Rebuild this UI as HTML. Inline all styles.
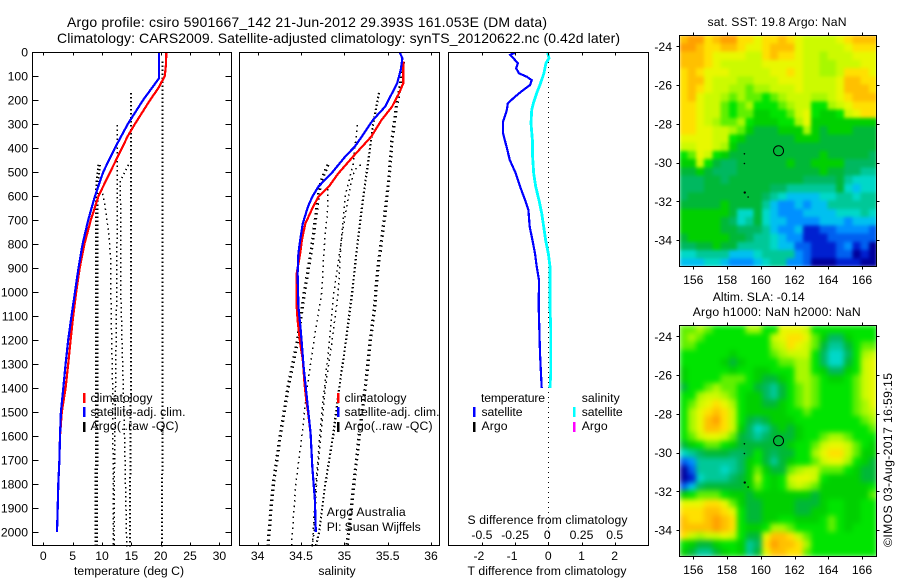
<!DOCTYPE html>
<html lang="en">
<head>
<meta charset="utf-8">
<title>Argo profile chart</title>
<style>
html,body{margin:0;padding:0;background:#fff;width:900px;height:580px;overflow:hidden}
svg{display:block;font-family:"Liberation Sans",sans-serif;font-size:12.2px;fill:#000}
text{fill:#000}
.title{font-size:14px}
.frame{fill:none;stroke:#000;stroke-width:1;shape-rendering:crispEdges}
.seg{stroke-width:2.5;shape-rendering:crispEdges}
</style>
</head>
<body>
<svg id="chart" xmlns="http://www.w3.org/2000/svg" width="900" height="580" viewBox="0 0 900 580">
  <defs>
    <filter id="soft-sst" filterUnits="userSpaceOnUse" x="679.5" y="35.5" width="197" height="231" color-interpolation-filters="sRGB">
      <feGaussianBlur stdDeviation="1.8" edgeMode="duplicate"/>
    </filter>
    <filter id="soft-sla" filterUnits="userSpaceOnUse" x="679.5" y="325.5" width="197" height="231" color-interpolation-filters="sRGB">
      <feGaussianBlur stdDeviation="2.6" edgeMode="duplicate"/>
    </filter>
  </defs>
  <rect x="0" y="0" width="900" height="580" fill="#fff"/>
  <g id="heat-sst" filter="url(#soft-sst)"></g>
  <g id="heat-sla" filter="url(#soft-sla)"></g>
  <g id="marks"></g>
  <g id="ticks"></g>

  <rect class="frame" x="32.5" y="52.5" width="199" height="493"/>
  <rect class="frame" x="239.5" y="52.5" width="200" height="493"/>
  <rect class="frame" x="448.5" y="52.5" width="200" height="493"/>
  <rect class="frame" x="679.5" y="35.5" width="197" height="231"/>
  <rect class="frame" x="679.5" y="325.5" width="197" height="231"/>

  <text class="title" x="67" y="27" textLength="480" lengthAdjust="spacing">Argo profile: csiro 5901667_142 21-Jun-2012 29.393S 161.053E (DM data)</text>
  <text class="title" x="57" y="43" textLength="563" lengthAdjust="spacing">Climatology: CARS2009. Satellite-adjusted climatology: synTS_20120622.nc (0.42d later)</text>

  <text x="74" y="575" textLength="110" lengthAdjust="spacing">temperature (deg C)</text>
  <text x="337" y="575" text-anchor="middle">salinity</text>
  <text x="467.5" y="575" textLength="159" lengthAdjust="spacing">T difference from climatology</text>
  <text x="467.5" y="524" textLength="160" lengthAdjust="spacing">S difference from climatology</text>

  <g>
    <line class="seg" x1="84" x2="84" y1="393" y2="403" stroke="#f00"/>
    <line class="seg" x1="84" x2="84" y1="407" y2="417" stroke="#00f"/>
    <line class="seg" x1="84" x2="84" y1="422" y2="432" stroke="#000"/>
    <text x="90.5" y="402" textLength="62" lengthAdjust="spacing">climatology</text>
    <text x="90.5" y="416" textLength="95" lengthAdjust="spacing">satellite-adj. clim.</text>
    <text x="90.5" y="430" textLength="88" lengthAdjust="spacing">Argo(..raw -QC)</text>
  </g>
  <g>
    <line class="seg" x1="338" x2="338" y1="393" y2="403" stroke="#f00"/>
    <line class="seg" x1="338" x2="338" y1="407" y2="417" stroke="#00f"/>
    <line class="seg" x1="338" x2="338" y1="422" y2="432" stroke="#000"/>
    <text x="344.5" y="402" textLength="62" lengthAdjust="spacing">climatology</text>
    <text x="344.5" y="416" textLength="95" lengthAdjust="spacing">satellite-adj. clim.</text>
    <text x="344.5" y="430" textLength="88" lengthAdjust="spacing">Argo(..raw -QC)</text>
  </g>
  <text x="326.7" y="516" textLength="79" lengthAdjust="spacing">Argo Australia</text>
  <text x="326.7" y="531" textLength="94" lengthAdjust="spacing">PI: Susan Wijffels</text>

  <g>
    <text x="481" y="402" textLength="64" lengthAdjust="spacing">temperature</text>
    <text x="581.7" y="402" textLength="38" lengthAdjust="spacing">salinity</text>
    <line class="seg" x1="474" x2="474" y1="407" y2="417" stroke="#00f"/>
    <line class="seg" x1="474" x2="474" y1="422" y2="432" stroke="#000"/>
    <line class="seg" x1="574" x2="574" y1="407" y2="417" stroke="#0ff"/>
    <line class="seg" x1="574" x2="574" y1="422" y2="432" stroke="#f0f"/>
    <text x="481.5" y="416" textLength="41" lengthAdjust="spacing">satellite</text>
    <text x="481.5" y="430" textLength="26" lengthAdjust="spacing">Argo</text>
    <text x="581.7" y="416" textLength="41" lengthAdjust="spacing">satellite</text>
    <text x="581.7" y="430" textLength="26" lengthAdjust="spacing">Argo</text>
  </g>

  <text x="707.5" y="26" textLength="139" lengthAdjust="spacing">sat. SST: 19.8 Argo: NaN</text>
  <text x="712.7" y="301" textLength="92" lengthAdjust="spacing">Altim. SLA: -0.14</text>
  <text x="692.7" y="316" textLength="168" lengthAdjust="spacing">Argo h1000: NaN h2000: NaN</text>
  <text transform="translate(892,547) rotate(-90)" textLength="174" lengthAdjust="spacing">©IMOS 03-Aug-2017 16:59:15</text>
</svg>

<script>
/* ---------- profile data ---------- */
const climTempDepth = [0,50,100,150,200,300,350,400,500,600,700,800,900,1000,1100,1200,1300,1400,1500,1600,1700,1800,1900,2000];
const climTemp  = [20.95,20.9,20.7,19.6,18.2,15.6,14.4,13.4,11.4,9.4,8.1,7,6.2,5.6,5.1,4.65,4.25,3.8,3.15,2.85,2.75,2.56,2.45,2.33];
const climSalDepth = [40,130,172,228,283,353,436,506,561,603,644,714,783,839,922,1061,1117,1214,1283,1381,1450,1499,1589,1728,1867,2000];
const climSal   = [35.68,35.68,35.63,35.55,35.43,35.31,35.1,34.93,34.82,34.7,34.64,34.55,34.51,34.49,34.45,34.45,34.46,34.49,34.52,34.54,34.56,34.58,34.61,34.63,34.66,34.67];

const satTempDepth = [0,50,100,110,150,200,300,400,500,600,700,800,900,1000,1100,1200,1300,1400,1500,1600,1700,1800,1900,2000];
const satTemp  = [19.7,19.7,19.7,19.7,18.5,17,14.4,12.2,10.2,8.8,7.65,6.7,6,5.4,4.8,4.25,3.8,3.4,3,2.85,2.75,2.56,2.45,2.33];
const satSalDepth = [3,26,75,130,172,228,283,353,394,436,506,561,603,644,714,783,839,922,1061,1172,1311,1450,1589,1728,1867,2000];
const satSal   = [35.64,35.67,35.65,35.61,35.55,35.47,35.33,35.2,35.12,35.01,34.85,34.7,34.63,34.58,34.52,34.49,34.47,34.46,34.47,34.5,34.53,34.57,34.61,34.63,34.66,34.67];

const argoADepth = [170,305,470,600,800,1000,1200,1400,1600,1800,2000,2060];
const argoATemp  = [14.9,14.9,14.9,14.9,14.9,14.9,14.9,14.9,14.85,14.8,14.8,14.8];
const argoASal   = [35.4,35.33,35.27,35.22,35.15,35.09,35.02,34.94,34.87,34.78,34.71,34.67];

const argoBDepth = [40,130,230,367,505,640,783,920,1060,1200,1400,1600,1800,2000,2060];
const argoBTemp  = [20.3,20.3,20.3,20.3,20.3,20.3,20.3,20.3,20.3,20.3,20.3,20.3,20.25,20.2,20.2];
const argoBSal   = [35.68,35.65,35.6,35.55,35.52,35.48,35.43,35.38,35.35,35.3,35.24,35.17,35.11,35.05,35.03];

const argoCDepth = [305,470,600,800,1000,1200,1400,1600,1800,2000,2060];
const argoCTemp  = [12.6,12.6,12.6,12.55,12.5,12.4,12.3,12.2,12.1,12.05,12.05];
const argoCSal   = [35.15,35.1,35.01,34.96,34.93,34.86,34.78,34.73,34.68,34.65,34.63];

const argoDDepth = [470,540,600,800,1000,1200,1400,1600,1800,2000,2060];
const argoDTemp  = [9.5,9.2,9.1,9.1,9.1,9.1,9.1,9.1,9.05,9,9];
const argoDSal   = [34.81,34.73,34.7,34.63,34.54,34.46,34.35,34.26,34.18,34.13,34.12];

const argoEDepth = [570,640,690,750,860,1000,1200,1400,1600,1800,2000,2060];
const argoETemp  = [9.95,10.5,10.8,11.1,11.5,11.5,11.65,11.8,11.85,11.9,11.9,11.9];
const argoESal   = [34.81,34.81,34.8,34.78,34.76,34.74,34.65,34.57,34.51,34.44,34.4,34.39];

const argoFDepth = [470,490,540,700,1000,1200,1500,1800,2060];
const argoFTemp  = [14.5,14.1,13.1,13.2,13.2,13.4,13.75,14,14.2];
const argoFSal   = [35.19,35.12,35.08,35,34.88,34.83,34.74,34.67,34.63];

const diffTDepth = [3,12,26,47,68,89,103,117,138,158,186,214,242,290,339,394,450,506,561,617,658,728,783,839,894,950,1061,1151,1256,1400];
const diffT      = [-1,-1.15,-1.05,-0.92,-0.97,-0.88,-0.65,-0.5,-0.55,-0.75,-1,-1.22,-1.25,-1.36,-1.36,-1.26,-1.16,-0.98,-0.85,-0.7,-0.6,-0.56,-0.48,-0.4,-0.35,-0.28,-0.29,-0.27,-0.25,-0.2];
const diffSDepth = [3,26,47,89,138,172,214,242,297,367,436,506,561,617,672,728,783,839,894,1061,1151,1340,1400];
const diffS      = [-0.005,0.005,-0.018,-0.033,-0.063,-0.088,-0.113,-0.125,-0.13,-0.12,-0.118,-0.11,-0.095,-0.07,-0.05,-0.035,-0.02,0,0.0125,0.0125,0.018,0.018,0.0125];

/* ---------- tick labels ---------- */
const depthTicks = [0,100,200,300,400,500,600,700,800,900,1000,1100,1200,1300,1400,1500,1600,1700,1800,1900,2000];
const tempTicks  = [0,5,10,15,20,25,30];
const salTicks   = [34,34.5,35,35.5,36];
const diffTTicks = [-2,-1,0,1,2];
const diffSTicks = [-0.5,-0.25,0,0.25,0.5];
const lonTicks   = [156,158,160,162,164,166];
const latTicks   = [-24,-26,-28,-30,-32,-34];

/* ---------- map data (colour level per cell, north to south) ---------- */
const sstGrid = [
[16,17,17,15,16,17,17,15,15,14,15,15,16,15,14,13,13,13,13,14,15,16,16,16],
[17,17,16,15,15,16,16,15,14,14,15,16,16,16,14,13,13,13,13,13,14,15,15,15],
[16,16,16,15,14,14,14,14,13,13,15,16,15,15,14,13,13,12,13,13,13,14,14,14],
[16,16,16,15,14,13,13,13,13,13,14,14,14,14,14,13,13,12,12,13,13,13,14,14],
[15,16,15,14,14,14,13,13,13,13,13,14,14,15,14,13,13,12,12,13,15,15,15,14],
[15,16,16,14,13,13,13,12,12,13,13,13,14,14,14,13,13,13,13,14,16,16,15,15],
[15,16,15,14,13,13,12,12,11,12,12,13,13,13,14,13,13,13,13,14,16,16,16,15],
[15,16,14,13,13,12,11,12,11,11,10,11,12,13,13,13,12,12,13,14,15,16,16,16],
[15,15,14,13,13,11,10,11,12,10,10,10,11,12,13,13,10,10,12,13,14,15,15,15],
[15,15,14,13,13,11,10,11,11,9,9,10,10,11,13,14,10,9,9,10,13,14,15,15],
[15,15,14,13,12,11,11,12,10,9,9,9,10,10,12,14,9,9,9,9,9,9,9,9],
[15,15,14,14,13,13,12,11,9,8,8,8,9,9,9,12,9,8,9,9,9,8,8,8],
[14,14,14,14,13,13,10,9,8,8,8,8,8,8,9,9,9,8,8,8,8,8,8,8],
[13,13,14,14,13,12,9,8,8,8,8,8,8,8,8,8,8,8,8,8,8,8,8,8],
[10,11,14,13,10,9,8,8,8,8,8,8,8,8,8,8,8,9,8,8,8,8,8,7],
[9,9,13,10,8,7,7,8,8,8,8,8,8,9,8,8,9,9,9,9,7,7,7,7],
[8,8,9,8,7,7,7,8,8,8,8,8,8,8,8,8,8,9,8,8,7,7,6,6],
[7,7,7,8,8,7,8,8,8,8,8,8,8,8,8,7,7,7,7,8,6,5,5,5],
[7,7,7,8,8,8,8,8,8,8,8,7,7,6,6,6,6,6,6,8,5,4,5,5],
[7,8,8,8,8,8,8,8,8,8,7,6,5,4,4,4,4,5,5,6,6,5,6,6],
[8,8,8,8,8,9,8,8,8,8,6,4,3,3,4,3,4,4,6,6,6,6,6,6],
[9,9,9,9,9,9,8,5,5,8,5,4,3,3,3,4,4,4,4,5,5,5,6,5],
[9,9,9,9,9,8,7,5,6,8,5,4,4,3,3,3,3,4,4,4,3,4,4,4],
[9,9,9,9,9,8,8,7,7,7,6,4,3,3,4,1,1,2,2,3,3,3,3,2],
[8,9,9,9,9,9,8,8,7,6,6,5,4,3,3,1,1,1,2,2,2,2,2,2],
[7,7,8,8,9,8,8,6,6,6,6,5,4,4,2,2,1,1,1,2,3,1,2,0],
[5,5,6,6,6,6,4,4,4,5,6,6,6,6,3,2,1,1,1,2,2,0,1,0],
[4,4,4,5,5,4,3,3,3,4,5,6,6,3,3,2,0,0,0,1,1,1,0,0]
];
const slaGrid = [
[11,11,12,11,10,10,10,10,12,12,10,10,14,14,14,13,10,10,10,10,10,10,10,10],
[11,12,11,10,10,10,10,10,10,10,10,13,14,15,15,14,11,9,7,7,9,10,10,10],
[11,11,10,10,10,10,10,10,10,10,10,12,13,15,14,13,11,8,6,6,8,10,11,11],
[10,10,10,10,10,10,9,10,10,10,10,11,12,13,13,13,10,7,5,5,7,10,12,13],
[10,10,10,10,10,9,8,9,10,10,10,10,11,11,12,12,10,7,5,5,8,10,13,14],
[9,10,10,10,10,10,9,10,10,9,9,10,10,10,12,12,10,9,7,7,9,10,13,14],
[9,10,10,10,10,11,11,11,10,9,8,8,9,10,12,12,11,10,9,9,10,11,13,14],
[8,10,10,11,12,11,11,10,10,8,7,6,8,10,11,12,11,10,10,10,10,11,13,14],
[10,10,12,13,13,12,11,10,9,9,7,6,8,10,11,12,11,10,10,10,10,11,13,14],
[10,11,13,14,15,14,12,10,9,9,8,8,9,10,11,12,11,10,10,10,10,11,12,14],
[10,12,14,15,16,15,13,10,9,9,9,9,9,10,10,11,10,10,10,10,10,11,12,13],
[10,12,14,16,17,15,13,10,8,7,8,9,9,9,10,10,10,10,10,10,10,10,11,12],
[10,12,14,16,16,15,13,9,7,5,6,8,9,8,9,10,10,10,10,10,10,10,10,11],
[10,11,13,14,14,13,11,8,7,6,7,8,8,8,9,10,10,11,12,12,11,10,10,10],
[8,9,10,11,11,10,9,8,8,8,8,8,8,9,10,10,11,13,14,14,13,11,10,9],
[5,6,7,8,8,8,7,7,8,10,8,7,8,8,10,10,12,14,15,15,13,11,9,9],
[2,3,6,6,6,6,6,7,9,10,8,6,8,9,10,10,11,13,14,14,12,10,9,8],
[0,2,6,6,6,5,6,7,9,11,9,8,8,11,12,13,13,11,11,11,10,9,8,8],
[0,1,5,6,6,6,7,8,9,12,10,9,10,13,14,14,13,10,9,9,9,9,8,8],
[2,4,7,8,8,8,8,8,9,11,10,9,10,12,13,12,11,9,9,9,9,9,9,10],
[9,10,11,11,11,10,9,9,8,9,9,9,9,9,9,9,8,9,9,9,9,9,9,11],
[14,14,14,15,15,14,11,9,8,8,9,9,9,9,8,8,8,9,10,10,9,9,10,10],
[15,15,15,16,16,15,14,10,8,8,9,9,9,9,8,8,9,9,10,10,9,9,10,10],
[16,15,15,16,17,16,15,10,8,8,9,9,10,10,9,9,9,10,11,10,9,9,10,10],
[16,16,16,16,17,16,15,10,9,9,10,12,12,11,10,10,10,10,11,10,9,10,10,10],
[15,13,12,13,13,14,13,10,8,8,14,16,16,15,13,11,10,10,10,10,10,10,10,10],
[10,9,8,8,9,10,10,9,6,7,15,17,16,16,15,12,10,10,10,10,10,10,10,10],
[9,8,6,6,8,9,10,9,6,8,14,16,16,15,15,11,10,10,10,10,10,10,10,10]
];
const floatLon = 161.053;
const floatLat = -29.393;
const islandLon = [159.03,159.03,159.05,159.25];
const islandLat = [-29.55,-30.05,-31.55,-31.78];

/* colour scale for map levels 0..17 */
const palette = ['#00009c','#0020d0','#0060f0','#0090ff','#00c0f0','#00d8c8','#00c898','#00b860','#00b838','#00d000','#00e400','#60f000','#a8f800','#ccfa00','#e8f800','#ffe000','#ffc000','#ffa000'];

/* ---------- axis functions ---------- */
const depthY = d => 52 + 0.24 * d;
const tempX  = t => 43.3 + 5.87 * t;
const salX   = s => 257.7 + 86.67 * (s - 34);
const diffTX = t => 548.3 + 33.2 * t;
const diffSX = s => 548.3 + 132.8 * s;
const lonX   = lon => 693.3 + 16.87 * (lon - 156);
const latY   = (lat, top) => top + 11.3 + 19.37 * (-24 - lat);

const NS = 'http://www.w3.org/2000/svg';
const marks = document.getElementById('marks');
const ticks = document.getElementById('ticks');

function mk(tag, name, parent) {
  const el = document.createElementNS(NS, tag);
  
  
  parent.appendChild(el);
  return el;
}

function profile(name, xs, ds, xf, color, width, dash) {
  const pts = xs.map((v, i) => xf(v).toFixed(1) + ',' + depthY(ds[i]).toFixed(1)).join(' ');
  const el = mk('polyline', name, marks);
  el.setAttribute('points', pts);
  el.setAttribute('fill', 'none');
  el.setAttribute('stroke', color);
  el.setAttribute('stroke-width', width);
  el.setAttribute('shape-rendering', 'crispEdges');
  if (dash) el.setAttribute('stroke-dasharray', dash);
}

function tickLine(name, x1, y1, x2, y2) {
  const el = mk('line', name, ticks);
  el.setAttribute('x1', x1);
  el.setAttribute('y1', y1);
  el.setAttribute('x2', x2);
  el.setAttribute('y2', y2);
  el.setAttribute('stroke', '#000');
  el.setAttribute('stroke-width', 1);
  el.setAttribute('shape-rendering', 'crispEdges');
}

function tickText(name, x, y, anchor, str) {
  const el = mk('text', name, ticks);
  el.setAttribute('x', x);
  el.setAttribute('y', y);
  el.setAttribute('text-anchor', anchor);
  el.textContent = str;
}

/* ---------- temperature panel ---------- */
profile('argo-temp-profile-b', argoBTemp, argoBDepth, tempX, '#000', 2, '1.5 2.5');
profile('argo-temp-profile-a', argoATemp, argoADepth, tempX, '#000', 2, '1.5 2.5');
profile('argo-temp-profile-c', argoCTemp, argoCDepth, tempX, '#000', 1.5, '1.5 3');
profile('argo-temp-profile-e', argoETemp, argoEDepth, tempX, '#000', 1.5, '1.5 3.5');
profile('argo-temp-profile-f', argoFTemp, argoFDepth, tempX, '#000', 1.5, '1.5 3');
profile('argo-temp-profile-d', argoDTemp, argoDDepth, tempX, '#000', 3.5, '1.5 2.5');
profile('climatology-temperature-line', climTemp, climTempDepth, tempX, '#f00', 2.2);
profile('satellite-temperature-line', satTemp, satTempDepth, tempX, '#00f', 2.2);

/* ---------- salinity panel ---------- */
profile('argo-sal-profile-c', argoCSal, argoCDepth, salX, '#000', 1.5, '1.5 4');
profile('argo-sal-profile-e', argoESal, argoEDepth, salX, '#000', 1.5, '1.5 4');
profile('argo-sal-profile-f', argoFSal, argoFDepth, salX, '#000', 1.5, '1.5 4');
profile('argo-sal-profile-a', argoASal, argoADepth, salX, '#000', 2.2, '1.5 2.5');
profile('argo-sal-profile-b', argoBSal, argoBDepth, salX, '#000', 3.4, '1.5 3.5');
profile('argo-sal-profile-d', argoDSal, argoDDepth, salX, '#000', 3.4, '1.5 3.5');
profile('climatology-salinity-line', climSal, climSalDepth, salX, '#f00', 2.2);
profile('satellite-salinity-line', satSal, satSalDepth, salX, '#00f', 2.2);

/* ---------- difference panel ---------- */
const zeroLine = mk('line', 'zero-difference-line', marks);
zeroLine.setAttribute('x1', diffTX(0));
zeroLine.setAttribute('x2', diffTX(0));
zeroLine.setAttribute('y1', 52);
zeroLine.setAttribute('y2', 545);
zeroLine.setAttribute('stroke', '#000');
zeroLine.setAttribute('stroke-width', 1);
zeroLine.setAttribute('stroke-dasharray', '1 4');
zeroLine.setAttribute('shape-rendering', 'crispEdges');
profile('salinity-difference-line', diffS, diffSDepth, diffSX, '#0ff', 2.8);
profile('temperature-difference-line', diffT, diffTDepth, diffTX, '#00f', 2.2);

/* ---------- panel ticks ---------- */
depthTicks.forEach(d => {
  const y = Math.round(depthY(d)) + 0.5;
  tickLine('depth-tick-left', 32.5, y, 38.5, y);
  tickLine('depth-tick-right', 225.5, y, 231.5, y);
  tickText('depth-tick-label', 28, depthY(d) + 4.5, 'end', String(d));
});
tempTicks.forEach(t => {
  const x = Math.round(tempX(t)) + 0.5;
  tickLine('temperature-tick-top', x, 52.5, x, 55.5);
  tickLine('temperature-tick-bottom', x, 542.5, x, 545.5);
  tickText('temperature-tick-label', tempX(t), 560, 'middle', String(t));
});
salTicks.forEach(s => {
  const x = Math.round(salX(s)) + 0.5;
  tickLine('salinity-tick-top', x, 52.5, x, 55.5);
  tickLine('salinity-tick-bottom', x, 542.5, x, 545.5);
  tickText('salinity-tick-label', salX(s), 560, 'middle', String(s));
});
diffTTicks.forEach(t => {
  const x = Math.round(diffTX(t)) + 0.5;
  tickLine('difference-tick-top', x, 52.5, x, 55.5);
  tickLine('difference-tick-bottom', x, 542.5, x, 545.5);
  tickText('t-difference-tick-label', diffTX(t) - (t < 0 ? 3 : 0), 560, 'middle', String(t));
});
diffSTicks.forEach(s => {
  tickText('s-difference-tick-label', diffSX(s) - (s === 0 ? 1 : 0), 539, 'middle', String(s));
});

/* ---------- maps ---------- */
function drawMap(grid, groupId, top, prefix) {
  const group = document.getElementById(groupId);
  const rows = grid.length;
  const cols = grid[0].length;
  const lonMin = 155.18, lonMax = 166.89, latMax = -23.42, latMin = -35.38;
  grid.forEach((row, r) => {
    row.forEach((level, c) => {
      const x0 = lonX(lonMin + (lonMax - lonMin) * c / cols);
      const x1 = lonX(lonMin + (lonMax - lonMin) * (c + 1) / cols);
      const y0 = latY(latMax - (latMax - latMin) * r / rows, top);
      const y1 = latY(latMax - (latMax - latMin) * (r + 1) / rows, top);
      const cell = mk('rect', prefix + '-cell', group);
      cell.setAttribute('x', x0.toFixed(2));
      cell.setAttribute('y', y0.toFixed(2));
      cell.setAttribute('width', (x1 - x0 + 0.3).toFixed(2));
      cell.setAttribute('height', (y1 - y0 + 0.3).toFixed(2));
      cell.setAttribute('fill', palette[Math.max(0, Math.min(palette.length - 1, Math.round(level)))]);
      cell.setAttribute('shape-rendering', 'crispEdges');
    });
  });
  const circle = mk('circle', prefix + '-float-position', marks);
  circle.setAttribute('cx', lonX(floatLon));
  circle.setAttribute('cy', latY(floatLat, top));
  circle.setAttribute('r', 5);
  circle.setAttribute('fill', 'none');
  circle.setAttribute('stroke', '#000');
  circle.setAttribute('stroke-width', 1);
  islandLon.forEach((lon, i) => {
    const dot = mk('circle', prefix + '-island', marks);
    dot.setAttribute('cx', lonX(lon));
    dot.setAttribute('cy', latY(islandLat[i], top));
    dot.setAttribute('r', i === 2 ? 1.2 : 0.8);
    dot.setAttribute('fill', '#000');
  });
  lonTicks.forEach(lon => {
    const x = Math.round(lonX(lon)) + 0.5;
    tickLine(prefix + '-lon-tick-top', x, top + 0.5, x, top - 2.5);
    tickLine(prefix + '-lon-tick-bottom', x, top + 231.5, x, top + 234.5);
    tickText(prefix + '-lon-tick-label', lonX(lon), top + 249, 'middle', String(lon));
  });
  latTicks.forEach(lat => {
    const y = Math.round(latY(lat, top)) + 0.5;
    tickLine(prefix + '-lat-tick-left', 679.5, y, 676.5, y);
    tickLine(prefix + '-lat-tick-right', 876.5, y, 879.5, y);
    tickText(prefix + '-lat-tick-label', 672, latY(lat, top) + 4.5, 'end', String(lat));
  });
}
drawMap(sstGrid, 'heat-sst', 35, 'sst-map');
drawMap(slaGrid, 'heat-sla', 325, 'sla-map');
</script>
</body>
</html>
